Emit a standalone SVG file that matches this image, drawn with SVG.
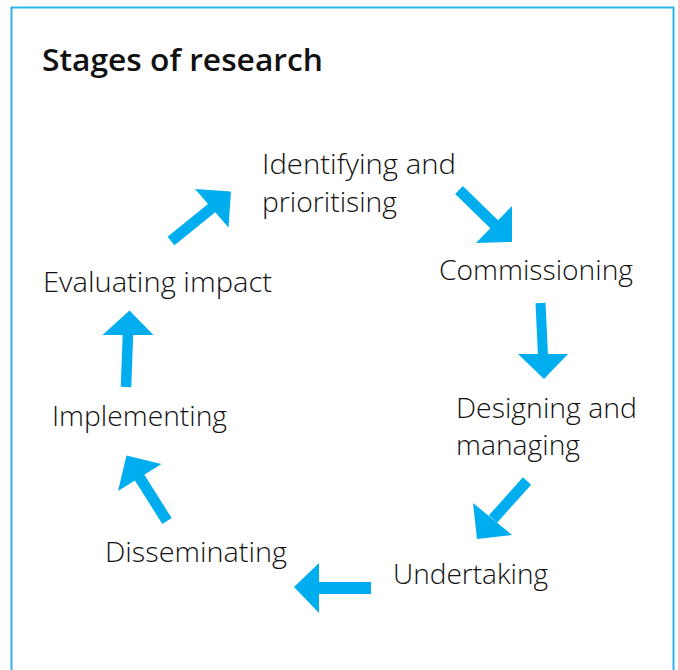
<svg xmlns="http://www.w3.org/2000/svg" width="678" height="670" viewBox="0 0 678 670">
<style>
.frame{fill:#ffffff;stroke:#2cb4ec;stroke-width:2}
.t{font-family:"Open Sans","Liberation Sans",Arial,sans-serif;font-size:28px;font-weight:300;fill:#111111}
.title{font-family:"Open Sans","Liberation Sans",Arial,sans-serif;font-size:30px;font-weight:600;fill:#111111}
.shaft{stroke:#00aeef;stroke-width:11;fill:none}
.head{fill:#00aeef}
</style>
<rect width="678" height="670" fill="#ffffff"/>
<rect class="frame" x="11.5" y="7.5" width="662" height="668"/>
<text class="title" x="42" y="71" textLength="281" lengthAdjust="spacingAndGlyphs">Stages of research</text>
<g id="identifying">
<text class="t" x="262" y="174" textLength="194" lengthAdjust="spacingAndGlyphs">Identifying and</text>
<text class="t" x="262" y="212" textLength="135" lengthAdjust="spacingAndGlyphs">prioritising</text>
</g>
<g id="commissioning"><text class="t" x="439" y="280" textLength="194" lengthAdjust="spacingAndGlyphs">Commissioning</text></g>
<g id="designing">
<text class="t" x="456" y="418" textLength="181" lengthAdjust="spacingAndGlyphs">Designing and</text>
<text class="t" x="456" y="455" textLength="124" lengthAdjust="spacingAndGlyphs">managing</text>
</g>
<g id="undertaking"><text class="t" x="393" y="584" textLength="155" lengthAdjust="spacingAndGlyphs">Undertaking</text></g>
<g id="disseminating"><text class="t" x="105" y="562" textLength="182" lengthAdjust="spacingAndGlyphs">Disseminating</text></g>
<g id="implementing"><text class="t" x="52" y="426" textLength="175" lengthAdjust="spacingAndGlyphs">Implementing</text></g>
<g id="evaluating"><text class="t" x="43" y="292" textLength="229" lengthAdjust="spacingAndGlyphs">Evaluating impact</text></g>
<g id="connectors">
<line class="shaft" x1="459" y1="190" x2="497" y2="227"/>
<polygon class="head" points="512,242 512,206 476,243"/>
<line class="shaft" x1="540.5" y1="303" x2="543" y2="356" style="stroke-width:10"/>
<polygon class="head" points="518,354 568,354 544,379"/>
<line class="shaft" x1="527" y1="481" x2="493" y2="519"/>
<polygon class="head" points="473,503 512,535 477,539"/>
<line class="shaft" x1="371" y1="588" x2="317" y2="588" style="stroke-width:12"/>
<polygon class="head" points="319,563 319,613 294,587"/>
<line class="shaft" x1="167" y1="521" x2="138" y2="475"/>
<polygon class="head" points="126.5,455.5 161.5,464 118,491"/>
<line class="shaft" x1="126" y1="387" x2="128" y2="333" style="stroke-width:10.5"/>
<polygon class="head" points="102.5,335 153.5,335 129.5,310.5"/>
<line class="shaft" x1="171" y1="241" x2="213" y2="207"/>
<polygon class="head" points="231,191.5 195,189 228.5,227.5"/>
</g>
</svg>
